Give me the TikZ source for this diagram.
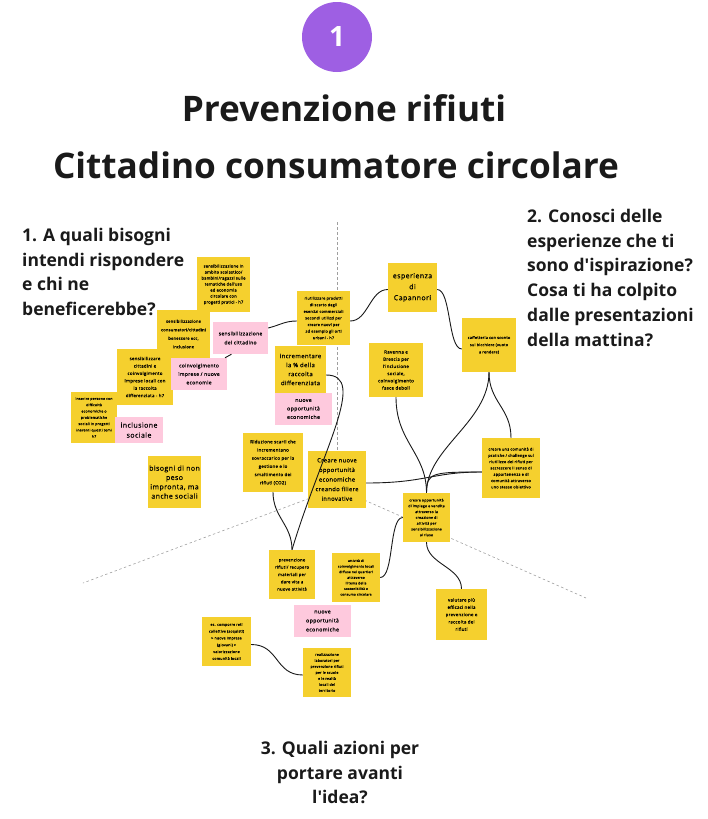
\documentclass[tikz,border=0pt]{standalone}
\usepackage{fontspec}
\setmainfont{Open Sans}
\newfontfamily\notefont[LetterSpace=6, FakeBold=0.4]{Open Sans}
\definecolor{stickyyellow}{RGB}{245,208,46}
\definecolor{stickypink}{RGB}{254,201,221}
\definecolor{badgepurple}{RGB}{158,95,227}
\definecolor{titleink}{RGB}{26,26,26}

\begin{document}
\begin{tikzpicture}[x=1pt, y=-1pt,
	every node/.style={inner sep=1pt, align=center},
	ynote/.style={fill=stickyyellow, text=black},
	pnote/.style={fill=stickypink, text=black},
	notetext/.style 2 args={font=\notefont\fontsize{#1}{#2}\selectfont},
	link/.style={draw=black!90, line width=0.9pt},
	axis/.style={draw=gray!75, line width=0.6pt, dash pattern=on 2.5pt off 2.5pt},
	question/.style={font=\fontsize{17.5}{24.7}\selectfont\bfseries, text=titleink},
	heading/.style={font=\fontsize{35.2}{40}\selectfont\bfseries, text=titleink}]
	\useasboundingbox (0,0) rectangle (707,819);

	\coordinate (hub) at (337,488);
	\coordinate (axTop) at (337,222);
	\coordinate (axLeft) at (83,583);
	\coordinate (axRight) at (586,598);
	\draw[axis] (axTop) -- (hub);
	\draw[axis] (hub) -- (axLeft);
	\draw[axis] (hub) -- (axRight);

	\node (badge) [circle, fill=badgepurple, minimum size=70, text=white, font=\fontsize{28}{30}\selectfont\bfseries] at (337,37) {1};
	\node (titleA) [heading] at (344,108) {Prevenzione rifiuti};
	\node (titleB) [heading] at (336,165) {Cittadino consumatore circolare};

	\node (questOne) [question, anchor=north west, align=left] at (21,227) {1. A quali bisogni\\intendi rispondere\\e chi ne\\beneficerebbe?};
	\node (questTwo) [question, anchor=north west, align=left] at (526,208) {2. Conosci delle\\esperienze che ti\\sono d\textquotesingle ispirazione?\\Cosa ti ha colpito\\dalle presentazioni\\della mattina?};
	\node (questThree) [question, anchor=north] at (340,740) {3. Quali azioni per\\portare avanti\\l\textquotesingle idea?};

	\node (sensScuola) [ynote, minimum width=53, minimum height=55, notetext={4}{6}] at (223.5,284.5) {sensibilizzazione in\\ambito scolastico/\\bambini/ragazzi sulle\\tematiche dell\textquotesingle uso\\ed economia\\circolare con\\progetti pratici - h7};
	\node (sensCons) [ynote, minimum width=53, minimum height=48, notetext={4}{8.5}] at (183.5,334) {sensibilizzazione\\consumatori/cittadini\\benessere ecc,\\inclusione};
	\node (pSensCitt) [pnote, minimum width=55, minimum height=32, notetext={5}{9}] at (240.5,338) {sensibilizzazione\\del cittadino};
	\node (sensImprese) [ynote, minimum width=56, minimum height=56, notetext={4.4}{7.4}] at (145,377) {sensibilizzare\\cittadini e\\coinvolgimento\\imprese locali con\\la raccolta\\differenziata - h7};
	\node (pCoinv) [pnote, minimum width=56, minimum height=32, notetext={5}{8.5}] at (199,374) {coinvolgimento\\imprese / nuove\\economie};
	\node (inserire) [ynote, minimum width=46, minimum height=51, notetext={3.5}{6.3}] at (94,417.5) {inserire persone con\\difficoltà\\economiche o\\problematiche\\sociali in progetti\\inerenti questi temi\\h7};
	\node (pInclusione) [pnote, minimum width=48, minimum height=26, notetext={7}{10}] at (139,430) {inclusione\\sociale};
	\node (bisogni) [ynote, minimum width=53, minimum height=52, notetext={7}{9.3}] at (174.5,482) {bisogni di non\\peso\\impronta, ma\\anche sociali};

	\node (riutilizzare) [ynote, minimum width=53, minimum height=54, notetext={3.8}{6.6}] at (323.5,318) {riutilizzare prodotti\\di scarto degli\\esercizi commerciali\\secondi utilizzi per\\creare nuovi per\\ad esempio gli orti\\urbani - h7};
	\node (incrementare) [ynote, minimum width=51, minimum height=47, notetext={6}{9}] at (300.5,369.5) {incrementare\\la \% della\\raccolta\\differenziata};
	\node (pNuoveA) [pnote, minimum width=57, minimum height=32, notetext={5.3}{8.5}] at (303.5,409) {nuove\\opportunità\\economiche};
	\node (capannori) [ynote, minimum width=49, minimum height=49, notetext={7}{11}] at (412.5,287.5) {esperienza\\di\\Capannori};
	\node (caffetteria) [ynote, minimum width=54, minimum height=54, notetext={3.8}{7.2}] at (489,345) {caffetteria con sconto\\sul bicchiere (vuoto\\a rendere)};
	\node (ravenna) [ynote, minimum width=54, minimum height=54, notetext={4.5}{7.2}] at (396,370) {Ravenna e\\Brescia per\\l\textquotesingle inclusione\\sociale,\\coinvolgimento\\fasce deboli};
	\node (riduzione) [ynote, minimum width=60, minimum height=59, notetext={4.4}{8.2}] at (273,462.5) {Riduzione scarti che\\incrementano\\sovraccarico per la\\gestione e lo\\smaltimento dei\\rifiuti (CO2)};
	\node (creareNuove) [ynote, minimum width=58, minimum height=57, notetext={5.8}{9.6}] at (337,479.5) {Creare nuove\\opportunità\\economiche\\creando filiere\\innovative};
	\node (comunita) [ynote, minimum width=58, minimum height=60, notetext={3.8}{6.3}] at (511,468) {creare una comunità di\\pratiche / challenge sul\\riutilizzo dei rifiuti per\\accrescere il senso di\\appartenenza e di\\comunità attraverso\\uno stesso obiettivo};
	\node (opportunita) [ynote, minimum width=47, minimum height=49, notetext={3.5}{5.8}] at (426.5,517.5) {creare opportunità\\di impiego e vendita\\attraverso la\\creazione di\\attività per\\sensibilizzazione\\al riuso};

	\node (prevenzione) [ynote, minimum width=46, minimum height=49, notetext={4.2}{7.3}] at (292,574.5) {prevenzione\\rifiuti/ recupero\\materiali per\\dare vita a\\nuove attività};
	\node (attivita) [ynote, minimum width=48, minimum height=49, notetext={3.3}{5.6}] at (356,577.5) {attività di\\coinvolgimento locali\\diffuse nei quartieri\\attraverso\\il tema della\\sostenibilità e\\consumo circolare};
	\node (pNuoveB) [pnote, minimum width=57, minimum height=32, notetext={5.3}{9}] at (322.5,621) {nuove\\opportunità\\economiche};
	\node (comporre) [ynote, minimum width=49, minimum height=49, notetext={3.6}{6.8}] at (226.5,641.5) {es. comporre reti\\collettive (acquisti)\\> nuove imprese\\(giovani) >\\valorizzazione\\comunità locali};
	\node (laboratori) [ynote, minimum width=48, minimum height=49, notetext={3.5}{6}] at (327,672.5) {realizzazione\\laboratori per\\prevenzione rifiuti\\per le scuole\\e le realtà\\locali del\\territorio};
	\node (valutare) [ynote, minimum width=51, minimum height=51, notetext={4.4}{7.3}] at (461.5,614.5) {valutare più\\efficaci nella\\prevenzione e\\raccolta dei\\rifiuti};

	\draw[link] ([yshift=10pt]pSensCitt.east) .. controls +(12,-3) and +(-12,0) .. ([yshift=-3pt]riutilizzare.west);
	\draw[link] ([xshift=-9pt]pSensCitt.south) -- ([xshift=26pt]pCoinv.north);
	\draw[link] ([yshift=-3pt]riutilizzare.east) .. controls +(18,0) and +(-18,0) .. ([yshift=-2pt]capannori.west);
	\draw[link] ([yshift=-2pt]capannori.east) .. controls +(14,0) and +(-14,0) .. ([yshift=-4pt]caffetteria.west);
	\draw[link] ([yshift=-5.5pt]incrementare.east) .. controls +(42,0) and +(30,-100) .. (prevenzione.north);
	\draw[link] (riduzione.south) .. controls +(0,25) and +(0,-25) .. (prevenzione.north);
	\draw[link] (ravenna.south) .. controls +(0,45) and +(0,-40) .. (opportunita.north);
	\draw[link] (caffetteria.south) .. controls +(0,50) and +(0,-45) .. (opportunita.north);
	\draw[link] (caffetteria.south) .. controls +(0,30) and +(0,-30) .. (comunita.north);
	\draw[link] ([yshift=-3.5pt]creareNuove.east) .. controls +(60,0) and +(-50,0) .. ([yshift=-4pt]comunita.west);
	\draw[link] ([yshift=-4pt]comunita.west) .. controls +(-50,0) and +(0,-20) .. (opportunita.north);
	\draw[link] (opportunita.west) .. controls +(-14,0) and +(14,0) .. (attivita.east);
	\draw[link] (opportunita.south) .. controls +(0,22) and +(0,-22) .. (valutare.north);
	\draw[link] ([yshift=-3pt]comporre.east) .. controls +(28,0) and +(-28,0) .. ([yshift=-2.5pt]laboratori.west);
\end{tikzpicture}
\end{document}
